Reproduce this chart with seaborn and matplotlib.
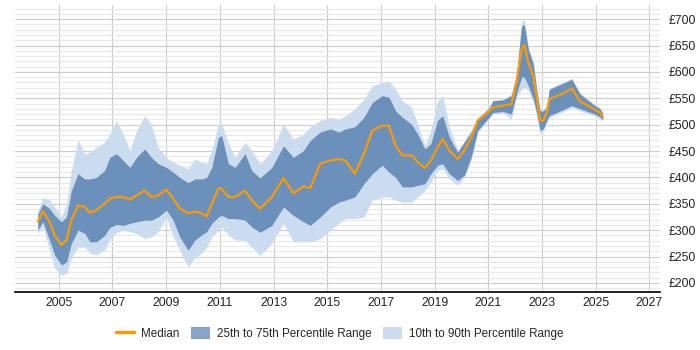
import matplotlib
matplotlib.use('Agg')
import matplotlib.pyplot as plt
from matplotlib.lines import Line2D
from matplotlib.patches import Patch
from matplotlib.ticker import MultipleLocator, FuncFormatter
import seaborn as sns
import pandas as pd

# ---- data (year, percentile values in GBP) ----
years = [2004.22, 2004.41, 2004.66, 2004.85, 2005.10, 2005.29, 2005.47, 2005.72,
         2005.97, 2006.16, 2006.40, 2006.71, 2006.90, 2007.15, 2007.40, 2007.65,
         2007.90, 2008.20, 2008.45, 2008.70, 2009.01, 2009.26, 2009.51, 2009.82,
         2010.07, 2010.32, 2010.51, 2010.70, 2010.95, 2011.07, 2011.32, 2011.57,
         2011.94, 2012.19, 2012.50, 2012.94, 2013.37, 2013.74, 2014.12, 2014.37,
         2014.74, 2015.12, 2015.43, 2015.68, 2016.03, 2016.37, 2016.68, 2017.05,
         2017.30, 2017.55, 2017.80, 2018.14, 2018.37, 2018.64, 2018.86, 2019.11,
         2019.30, 2019.55, 2019.86, 2020.11, 2020.36, 2020.61, 2021.03, 2021.17,
         2021.55, 2021.86, 2022.05, 2022.24, 2022.34, 2022.49, 2022.68, 2022.80,
         2022.93, 2023.05, 2023.18, 2023.27, 2023.86, 2024.11, 2024.42, 2024.92,
         2025.16, 2025.26]
p10 = [294, 306, 262, 228, 215, 218, 248, 268, 268, 256, 253, 262, 282, 296,
       300, 297, 294, 284, 287, 297, 325, 287, 262, 230, 248, 256, 268, 287,
       300, 306, 291, 281, 281, 268, 252, 275, 313, 278, 278, 278, 284, 300,
       313, 322, 322, 325, 357, 363, 363, 357, 353, 353, 363, 375, 391, 413,
       416, 398, 385, 400, 432, 486, 511, 520, 522, 511, 552, 567, 571, 564,
       542, 517, 483, 487, 503, 513, 526, 532, 526, 517, 511, 507]
p25 = [300, 316, 281, 253, 234, 240, 275, 300, 294, 278, 278, 290, 305, 311,
       309, 313, 316, 319, 319, 325, 338, 319, 287, 262, 281, 291, 297, 313,
       325, 328, 322, 322, 319, 306, 296, 309, 344, 328, 316, 309, 325, 344,
       353, 357, 363, 388, 407, 423, 410, 400, 382, 382, 385, 388, 407, 423,
       426, 407, 394, 404, 438, 489, 514, 523, 525, 520, 558, 590, 590, 574,
       548, 523, 489, 492, 508, 517, 530, 536, 530, 521, 515, 509]
median = [316, 336, 316, 291, 272, 281, 319, 347, 344, 333, 338, 350, 360, 363,
          363, 358, 366, 375, 363, 366, 377, 360, 341, 332, 335, 332, 326, 350,
          379, 379, 363, 363, 375, 357, 341, 363, 399, 370, 383, 380, 426, 432,
          435, 432, 407, 445, 489, 498, 498, 460, 442, 442, 429, 418, 432, 457,
          473, 451, 435, 451, 476, 508, 525, 533, 536, 539, 580, 643, 651, 618,
          592, 555, 508, 508, 523, 548, 561, 569, 544, 530, 523, 515]
p75 = [330, 350, 341, 328, 316, 325, 375, 407, 397, 397, 400, 413, 438, 445,
       432, 419, 438, 454, 438, 426, 419, 410, 400, 390, 397, 397, 400, 419,
       476, 479, 426, 419, 445, 413, 399, 419, 460, 438, 451, 470, 486, 492,
       486, 492, 496, 514, 542, 555, 552, 526, 514, 501, 482, 454, 464, 508,
       517, 476, 448, 467, 486, 511, 531, 545, 547, 555, 592, 687, 690, 643,
       615, 567, 526, 526, 533, 567, 580, 586, 558, 538, 530, 522]
p90 = [336, 362, 357, 344, 325, 350, 413, 471, 445, 448, 457, 467, 482, 508,
       482, 451, 489, 517, 501, 457, 438, 429, 423, 416, 435, 429, 426, 451,
       501, 501, 464, 438, 467, 451, 426, 451, 501, 473, 482, 496, 508, 514,
       510, 517, 530, 548, 574, 580, 583, 567, 545, 533, 501, 460, 489, 545,
       555, 496, 451, 470, 489, 514, 533, 547, 548, 558, 599, 696, 699, 649,
       618, 570, 530, 530, 536, 569, 582, 588, 560, 540, 532, 524]

year_ticks = list(range(2005, 2028, 2))

df = pd.DataFrame({'year': years, 'p10': p10, 'p25': p25, 'median': median,
                   'p75': p75, 'p90': p90})

ORANGE = '#ff9900'
DARK = '#6b90ba'
LIGHT = '#cbdcee'

sns.set_style('white')
plt.rcParams['font.family'] = ['Liberation Sans', 'DejaVu Sans']

fig = plt.figure(figsize=(7, 3.5), dpi=100)
ax = fig.add_axes([0.021, 0.166, 0.922, 0.820])

ax.fill_between(df['year'], df['p10'], df['p90'], color=LIGHT, lw=0, zorder=2)
ax.fill_between(df['year'], df['p25'], df['p75'], color=DARK, lw=0, zorder=3)
sns.lineplot(data=df, x='year', y='median', color=ORANGE, lw=1.6, ax=ax, zorder=4)

ax.set_xlim(2003.36, 2027.4)
ax.set_ylim(183, 727)
ax.set_xticks(year_ticks)
ax.set_yticks(range(200, 701, 50))
ax.yaxis.set_minor_locator(MultipleLocator(10))
ax.yaxis.set_major_formatter(FuncFormatter(lambda v, p: f'£{int(v)}'))
ax.yaxis.tick_right()
ax.set_xlabel('')
ax.set_ylabel('')

ax.grid(which='major', axis='both', color='#cccccc', lw=0.8, zorder=0)
ax.grid(which='minor', axis='y', color='#e8e8e8', lw=0.8, zorder=0)
ax.set_axisbelow(True)
for s in ['top', 'left', 'right']:
    ax.spines[s].set_visible(False)
ax.spines['bottom'].set_color('black')
ax.spines['bottom'].set_linewidth(1.2)
ax.tick_params(axis='both', which='both', length=0, labelsize=8.7, colors='#222222')
ax.tick_params(axis='x', pad=4)
ax.tick_params(axis='y', pad=6)

handles = [Line2D([0], [0], color=ORANGE, lw=2.5),
           Patch(facecolor='#88a5c8', edgecolor='none'),
           Patch(facecolor=LIGHT, edgecolor='none')]
labels = ['Median', '25th to 75th Percentile Range', '10th to 90th Percentile Range']
fig.legend(handles, labels, loc='center', bbox_to_anchor=(0.485, 0.047), ncol=3,
           frameon=False, fontsize=8.4, handlelength=1.6, handleheight=1.2,
           columnspacing=1.0, handletextpad=0.6)

fig.savefig('out.png', dpi=100)
